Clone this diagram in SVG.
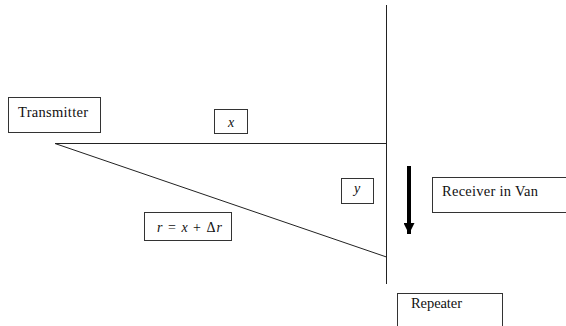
<svg xmlns="http://www.w3.org/2000/svg" width="566" height="326" viewBox="0 0 566 326">
<defs>
<style>
.box{fill:#fff;stroke:#333;stroke-width:1}
.ln{stroke:#222;stroke-width:1;fill:none}
</style>
<marker id="ah" viewBox="0 0 10 10" refX="10" refY="5" markerWidth="12" markerHeight="11" markerUnits="userSpaceOnUse" orient="auto">
<path d="M0,0 L10,5 L0,10 Z" fill="#000"/>
</marker>
</defs>
<rect width="566" height="326" fill="#fff"/>
<g id="connectors">
<line class="ln" x1="386.5" y1="5" x2="386.5" y2="284"/>
<line class="ln" x1="55" y1="143.5" x2="386.5" y2="143.5"/>
<line class="ln" x1="55" y1="143.5" x2="386.5" y2="257"/>
<line x1="409" y1="166" x2="409" y2="234" stroke="#000" stroke-width="4" marker-end="url(#ah)"/>
</g>
<g font-family="Liberation Serif, DejaVu Serif, serif" font-size="14.5" fill="#111">
<g id="transmitter">
<rect class="box" x="8.5" y="97.5" width="92" height="35"/>
<text x="18" y="117" textLength="70" lengthAdjust="spacing">Transmitter</text>
</g>
<g id="x-label">
<rect class="box" x="214.5" y="109.5" width="33" height="24"/>
<text x="231" y="127" text-anchor="middle" font-style="italic" font-size="14">x</text>
</g>
<g id="r-label">
<rect class="box" x="144.5" y="212.5" width="87" height="28"/>
<text x="157" y="232" font-size="14" textLength="65" lengthAdjust="spacing"><tspan font-style="italic">r</tspan> = <tspan font-style="italic">x</tspan> + Δ<tspan font-style="italic">r</tspan></text>
</g>
<g id="y-label">
<rect class="box" x="341.5" y="178.5" width="32" height="25"/>
<text x="357" y="193" text-anchor="middle" font-style="italic" font-size="14">y</text>
</g>
<g id="receiver">
<rect class="box" x="432.5" y="177.5" width="140" height="35"/>
<text x="442" y="196" textLength="96" lengthAdjust="spacing">Receiver in Van</text>
</g>
<g id="repeater">
<rect class="box" x="397.5" y="293.5" width="105" height="40"/>
<text x="411" y="308" textLength="51" lengthAdjust="spacing">Repeater</text>
</g>
</g>
</svg>
